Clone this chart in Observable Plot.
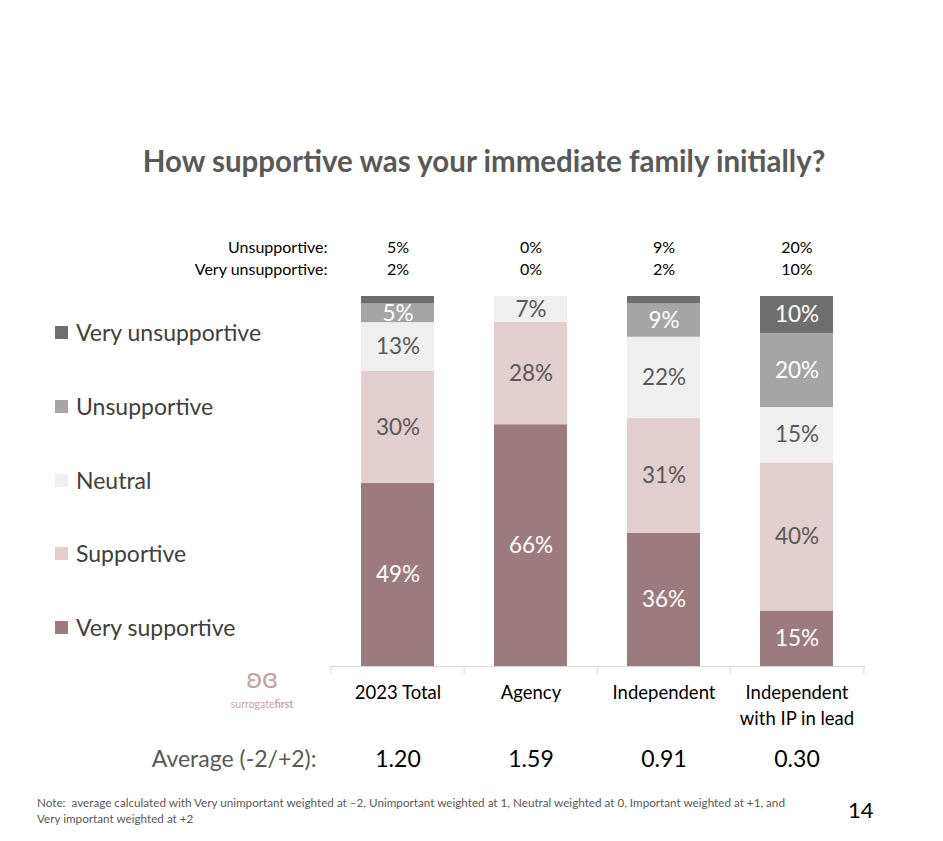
<!DOCTYPE html>
<html>
<head>
<meta charset="utf-8">
<script src="https://cdn.jsdelivr.net/npm/d3@7"></script>
<script src="https://cdn.jsdelivr.net/npm/@observablehq/plot@0.6"></script>
<style>
  html, body { margin: 0; padding: 0; background: #fff; }
  #wrap { position: relative; width: 943px; height: 841px; font-family: Lato, "Noto Sans", sans-serif; overflow: hidden; }
  #chart { position: absolute; left: 0; top: 0; }
  .abs { position: absolute; white-space: nowrap; }
  #title { left: 0; width: 968px; text-align: center; top: 143px; font-size: 29.5px; line-height: 36px; font-weight: bold; color: #595959; }
  .leg { position: absolute; left: 55px; font-size: 23px; line-height: 26px; color: #404040; display: flex; align-items: center; }
  .leg span.sw { display: inline-block; width: 13px; height: 13px; margin-right: 8px; }
  #note { left: 37px; top: 794px; font-size: 11.7px; line-height: 16px; color: #595959; }
  #page { left: 848px; top: 796px; font-size: 22px; color: #000; }
  #logo { left: 222px; top: 658px; width: 80px; text-align: center; color: #c7a3a8; }
  #logo .fly { font-size: 28px; line-height: 38px; }
  #logo .name { font-size: 10.5px; line-height: 14px; margin-top: 1px; }
</style>
</head>
<body>
<div id="wrap">
  <div id="chart"></div>
  <div id="title" class="abs">How supportive was your immediate family initially?</div>
  <div id="legend"></div>
  <div id="logo" class="abs"><div class="fly">ʚɞ</div><div class="name">surrogate<b>first</b></div></div>
  <div id="note" class="abs">Note:&nbsp; average calculated with Very unimportant weighted at –2, Unimportant weighted at 1, Neutral weighted at 0, Important weighted at +1, and<br>Very important weighted at +2</div>
  <div id="page" class="abs">14</div>
</div>
<script>
// ---- data ----
const categories = ["2023 Total", "Agency", "Independent", "Independent\nwith IP in lead"];
const levels = ["Very supportive", "Supportive", "Neutral", "Unsupportive", "Very unsupportive"];
const verySupportive   = [49, 66, 36, 15];
const supportive       = [30, 28, 31, 40];
const neutral          = [13, 7, 22, 15];
const unsupportive     = [5, 0, 9, 20];
const veryUnsupportive = [2, 0, 2, 10];
const averages = ["1.20", "1.59", "0.91", "0.30"];
const colors = ["#9b7b80", "#e2cdcf", "#efefef", "#a5a5a5", "#6e6e6e"];
const labelColors = ["#ffffff", "#595959", "#595959", "#ffffff", "#ffffff"];

const series = [verySupportive, supportive, neutral, unsupportive, veryUnsupportive];
const table = [];
levels.forEach((lev, li) => categories.forEach((cat, ci) => {
  table.push({category: cat, level: lev, value: series[li][ci]});
}));

// ---- layout ----
const W = 943, H = 841;
const mL = 330, mR = 78, mT = 296, mB = 175;
const step = (W - mL - mR) / categories.length;
const font = "Lato, 'Noto Sans', sans-serif";

const chart = Plot.plot({
  width: W, height: H,
  marginLeft: mL, marginRight: mR, marginTop: mT, marginBottom: mB,
  style: {fontFamily: font, background: "transparent"},
  x: {domain: categories, paddingInner: 0.45, paddingOuter: 0.225, axis: null},
  y: {domain: [0, 1], axis: null},
  color: {domain: levels, range: colors},
  marks: [
    Plot.barY(table, Plot.stackY({x: "category", y: "value", fill: "level", offset: "normalize"})),
    Plot.text(table, Plot.stackY({
      x: "category", y: "value", offset: "normalize",
      text: d => d.value >= 4 ? d.value + "%" : "",
      fill: d => labelColors[levels.indexOf(d.level)],
      fontSize: 22.5
    })),
    Plot.ruleY([0], {stroke: "#d9d9d9", strokeWidth: 1.2}),
    Plot.ruleX(categories, {x: d => d, y1: 0, y2: -0.022, dx: -step / 2, stroke: "#d9d9d9"}),
    Plot.ruleX(categories.slice(-1), {x: d => d, y1: 0, y2: -0.022, dx: step / 2, stroke: "#d9d9d9"}),
    // category labels
    Plot.text(categories, {x: d => d, text: d => d, frameAnchor: "bottom", lineAnchor: "top", dy: 15, fontSize: 18.5, lineHeight: 1.36, fill: "#000"}),
    // averages
    Plot.text(categories, {x: d => d, text: (d, i) => averages[i], frameAnchor: "bottom", dy: 100, fontSize: 23, fill: "#000"}),
    Plot.text(["Average (-2/+2):"], {text: d => d, frameAnchor: "bottom-left", textAnchor: "end", dx: -14, dy: 100, fontSize: 23, fill: "#595959"}),
    // top table
    Plot.text(categories, {x: d => d, text: (d, i) => unsupportive[i] + "%", frameAnchor: "top", dy: -55, fontSize: 16, fill: "#000"}),
    Plot.text(categories, {x: d => d, text: (d, i) => veryUnsupportive[i] + "%", frameAnchor: "top", dy: -33, fontSize: 16, fill: "#000"}),
    Plot.text(["Unsupportive:"], {text: d => d, frameAnchor: "top-left", textAnchor: "end", dx: -3, dy: -55, fontSize: 16, fill: "#000"}),
    Plot.text(["Very unsupportive:"], {text: d => d, frameAnchor: "top-left", textAnchor: "end", dx: -3, dy: -33, fontSize: 16, fill: "#000"})
  ]
});
document.getElementById("chart").appendChild(chart);

// legend (top to bottom: reverse of stack order)
const legendTops = [319, 393, 467, 540, 614];
const leg = document.getElementById("legend");
levels.slice().reverse().forEach((lev, i) => {
  const d = document.createElement("div");
  d.className = "leg";
  d.style.top = legendTops[i] + "px";
  d.innerHTML = `<span class="sw" style="background:${colors[levels.length - 1 - i]}"></span>${lev}`;
  leg.appendChild(d);
});
</script>
</body>
</html>
